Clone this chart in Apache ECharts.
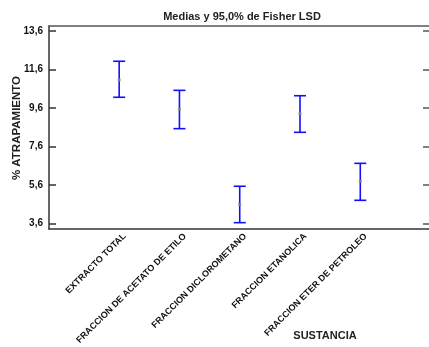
<!DOCTYPE html>
<html>
<head>
<meta charset="utf-8">
<script src="https://cdn.jsdelivr.net/npm/echarts@6/dist/echarts.min.js"></script>
<style>html,body{margin:0;padding:0;background:#fff;}#c{width:429px;height:347px;}</style>
</head>
<body>
<div id="c"></div>
<script>
const categories = ['EXTRACTO TOTAL', 'FRACCION DE ACETATO DE ETILO', 'FRACCION DICLOROMETANO', 'FRACCION ETANOLICA', 'FRACCION ETER DE PETROLEO'];
const means = [11.06, 9.54, 4.59, 9.31, 5.80];
const lower = [10.16, 8.53, 3.65, 8.34, 4.81];
const upper = [12.03, 10.52, 5.54, 10.24, 6.73];
const yTicks = [3.6, 5.6, 7.6, 9.6, 11.6, 13.6];

const FONT = '"Liberation Sans", Arial, sans-serif';
const chart = echarts.init(document.getElementById('c'), null, {renderer: 'canvas'});
const xIdx = categories.map((c, i) => i);
const LABEL_SHIFT = 0.09;
const axisColor = '#333';
const option = {
  animation: false,
  backgroundColor: '#fff',
  grid: {left: 49, top: 26, right: -1, bottom: 118, containLabel: false},
  xAxis: [{
    type: 'value', min: -1.164, max: 5.14, position: 'bottom',
    axisLine: {show: true, onZero: false, lineStyle: {color: axisColor, width: 1.5}},
    axisTick: {show: false},
    splitLine: {show: false},
    axisLabel: {
      show: true, customValues: xIdx.map(i => i + LABEL_SHIFT), rotate: 45, margin: 6,
      formatter: v => categories[Math.round(v)] || '',
      fontFamily: FONT, fontSize: 9, fontWeight: 'bold', color: '#111'
    }
  }, {
    type: 'value', min: -1.164, max: 5.14, position: 'top',
    axisLine: {show: true, onZero: false, lineStyle: {color: '#555', width: 1.5}},
    axisTick: {show: false}, axisLabel: {show: false}, splitLine: {show: false}
  }],
  yAxis: [{
    type: 'value', min: 3.325, max: 13.86, position: 'left',
    axisLine: {show: true, onZero: false, lineStyle: {color: axisColor, width: 1.5}},
    axisTick: {show: true, inside: true, length: 7, customValues: yTicks, lineStyle: {color: '#333', width: 1.5}},
    splitLine: {show: false},
    axisLabel: {
      show: true, customValues: yTicks, margin: 6,
      formatter: v => v.toFixed(1).replace('.', ','),
      fontFamily: FONT, fontSize: 10, fontWeight: 'bold', color: '#111'
    }
  }, {
    type: 'value', min: 3.325, max: 13.86, position: 'right',
    axisLine: {show: false, onZero: false},
    axisTick: {show: true, inside: true, length: 6, customValues: yTicks, lineStyle: {color: '#555', width: 1.5}},
    splitLine: {show: false}, axisLabel: {show: false}
  }],
  series: [{
    type: 'custom',
    xAxisIndex: 0, yAxisIndex: 0,
    data: xIdx.map(i => [i, lower[i], upper[i]]),
    renderItem: function (params, api) {
      const x = api.value(0);
      const lo = api.coord([x, api.value(1)]);
      const hi = api.coord([x, api.value(2)]);
      const hw = 6;
      const st = {stroke: '#1010ff', lineWidth: 1.6};
      return {
        type: 'group',
        children: [
          {type: 'line', shape: {x1: lo[0], y1: lo[1], x2: hi[0], y2: hi[1]}, style: st},
          {type: 'line', shape: {x1: lo[0] - hw, y1: lo[1], x2: lo[0] + hw, y2: lo[1]}, style: st},
          {type: 'line', shape: {x1: hi[0] - hw, y1: hi[1], x2: hi[0] + hw, y2: hi[1]}, style: st}
        ]
      };
    },
    z: 2
  }, {
    type: 'scatter',
    xAxisIndex: 0, yAxisIndex: 0,
    data: xIdx.map(i => [i, means[i]]),
    symbol: 'rect', symbolSize: 3,
    itemStyle: {color: '#8c8c78'},
    z: 3
  }],
  graphic: [
    {type: 'text', x: 242, y: 17, style: {text: 'Medias y 95,0% de Fisher LSD', font: 'bold 11px ' + FONT, fill: '#222', align: 'center', verticalAlign: 'middle'}},
    {type: 'text', x: 17, y: 128, rotation: Math.PI / 2, style: {text: '% ATRAPAMIENTO', font: 'bold 11.5px ' + FONT, fill: '#222', align: 'center', verticalAlign: 'middle'}},
    {type: 'text', x: 325, y: 336, style: {text: 'SUSTANCIA', font: 'bold 11px ' + FONT, fill: '#222', align: 'center', verticalAlign: 'middle'}}
  ]
};
chart.setOption(option);
</script>
</body>
</html>
